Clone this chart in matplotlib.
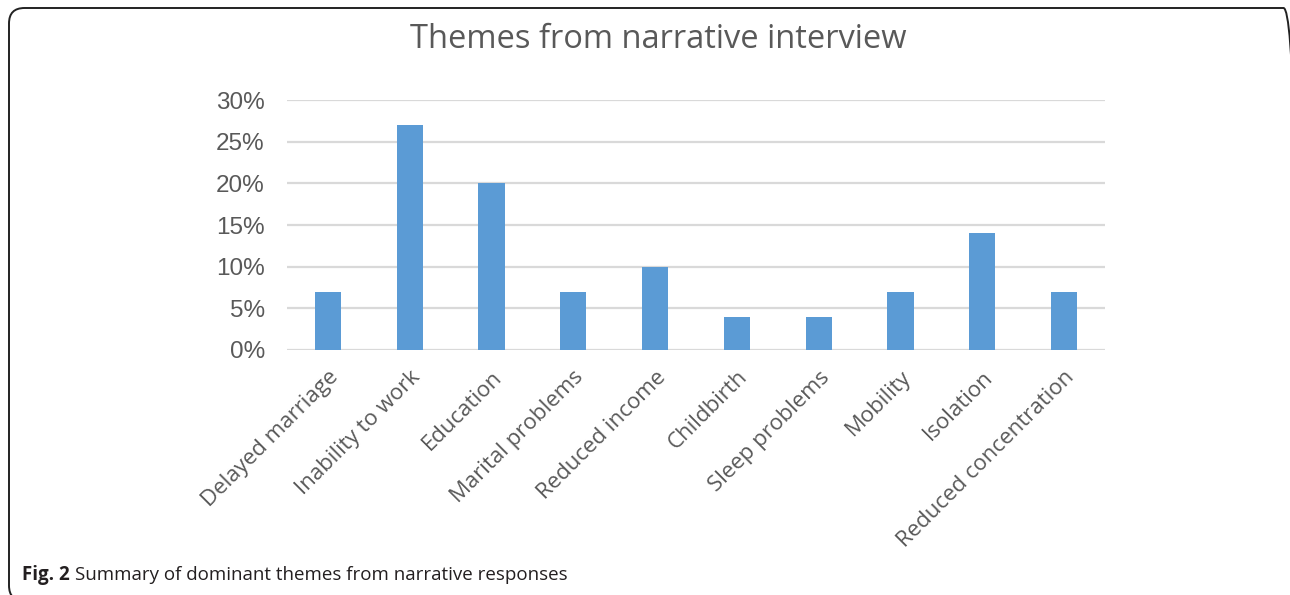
import matplotlib.pyplot as plt
from matplotlib.patches import FancyBboxPatch
from matplotlib.ticker import FuncFormatter

# themes and their share of responses
themes = ['Delayed marriage', 'Inability to work', 'Education', 'Marital problems',
          'Reduced income', 'Childbirth', 'Sleep problems', 'Mobility', 'Isolation',
          'Reduced concentration']
shares = [0.07, 0.27, 0.20, 0.07, 0.10, 0.04, 0.04, 0.07, 0.14, 0.07]
y_ticks = [0, 0.05, 0.10, 0.15, 0.20, 0.25, 0.30]

W, H = 1290, 595
fig = plt.figure(figsize=(W / 100, H / 100), dpi=100)
fig.patch.set_facecolor('white')

# rounded frame round the figure, right and bottom edges run off the page
frame = FancyBboxPatch((9 / W, -6 / H), 1290 / W, (H - 2) / H,
                       boxstyle='round,pad=0,rounding_size=0.012',
                       transform=fig.transFigure, fill=False,
                       edgecolor='#222222', linewidth=1.4, mutation_aspect=W / H)
fig.patches.append(frame)

ax = fig.add_axes([287 / W, 1 - 350 / H, (1105 - 287) / W, 250 / H])
x = range(len(themes))
ax.bar(x, shares, width=0.32, color='#5b9bd5', zorder=3)

ax.set_xlim(-0.5, len(themes) - 0.5)
ax.set_ylim(0, 0.30)
ax.set_yticks(y_ticks)
ax.yaxis.set_major_formatter(FuncFormatter(lambda v, p: '%d%%' % round(v * 100)))
ax.grid(axis='y', color='#d9d9d9', linewidth=1.6, zorder=0)
ax.set_axisbelow(True)
for s in ax.spines.values():
    s.set_visible(False)
ax.tick_params(axis='both', length=0)
ax.tick_params(axis='y', labelsize=17.5, labelcolor='#595959', pad=16)
for lab in ax.get_yticklabels():
    lab.set_fontfamily('Liberation Sans')

ax.set_xticks(list(x))
ax.set_xticklabels(themes, rotation=45, ha='right', rotation_mode='anchor',
                   fontsize=16, color='#595959', family='Open Sans')
ax.tick_params(axis='x', pad=12)

fig.text(658 / W, 1 - 40 / H, 'Themes from narrative interview', ha='center', va='center',
         fontsize=23.5, color='#595959', family='Open Sans')

# caption: bold figure number, then plain text
cap_y = 1 - 575 / H
t = fig.text(22 / W, cap_y, 'Fig. 2', fontsize=13.5, color='#231f20',
             va='center', family='Open Sans', fontweight='bold')
fig.canvas.draw()
bb = t.get_window_extent()
fig.text((bb.x1 + 5) / W, cap_y, 'Summary of dominant themes from narrative responses',
         fontsize=13.5, color='#231f20', va='center', family='Open Sans')

fig.savefig('out.png', dpi=100)
